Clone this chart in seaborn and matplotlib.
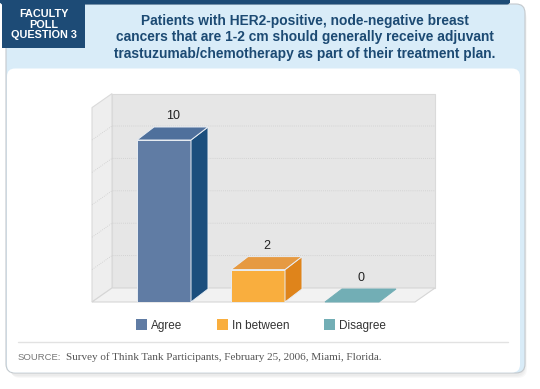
import matplotlib
matplotlib.use("Agg")
import matplotlib.pyplot as plt
import matplotlib.transforms as mtransforms
from matplotlib.patches import Polygon, Rectangle, FancyBboxPatch
from matplotlib.lines import Line2D
import numpy as np
import pandas as pd
import seaborn as sns

# ---------------- data ----------------
categories = ["Agree", "In between", "Disagree"]
votes = [10, 2, 0]
y_ticks = [0, 2, 4, 6, 8, 10, 12]
header_label = "FACULTY\nPOLL\nQUESTION 3"
title_lines = [
    "Patients with HER2-positive, node-negative breast",
    "cancers that are 1-2 cm should generally receive adjuvant",
    "trastuzumab/chemotherapy as part of their treatment plan.",
]
source_label = "SOURCE:"
source_text = "Survey of Think Tank Participants, February 25, 2006, Miami, Florida."

front_colors = ["#607ca4", "#f9ae3e", "#72aeb5"]
side_colors = ["#1b4e7d", "#df841b", "#5c979e"]
top_colors = ["#4f709c", "#e69a42", "#72aeb5"]

DARK = "#1d4b76"
LIGHT = "#d9ecf8"
SANS = ["Liberation Sans", "DejaVu Sans"]

W, H = 540, 389
sns.set_theme(style="white")
plt.rcParams["font.family"] = SANS

fig = plt.figure(figsize=(W / 100, H / 100), dpi=100)
fig.patch.set_facecolor("white")
ident = mtransforms.IdentityTransform()


def px(x, y):
    return (x, H - y)


def rect_px(x0, y0, x1, y1, **kw):
    r = Rectangle(px(x0, y1), x1 - x0, y1 - y0, transform=ident, **kw)
    fig.add_artist(r)
    return r


def fx(x):
    return x / W


def fy(y):
    return 1 - y / H


# ---------------- card frame ----------------
for i, a in enumerate([0.05, 0.05, 0.05]):
    sh = FancyBboxPatch(px(9 + i, 376 + i), 516, 368, boxstyle="round,pad=0,rounding_size=9",
                        transform=ident, facecolor="#808080", edgecolor="none", alpha=a, zorder=0)
    fig.add_artist(sh)
card = FancyBboxPatch(px(6, 373), 519, 369, boxstyle="round,pad=0,rounding_size=9",
                      transform=ident, facecolor=LIGHT, edgecolor="#c4c9cd", linewidth=0.8, zorder=1)
fig.add_artist(card)
panel = FancyBboxPatch(px(7, 372.5), 513, 304, boxstyle="round,pad=0,rounding_size=8",
                       transform=ident, facecolor="white", edgecolor="none", zorder=1.1)
fig.add_artist(panel)
strip = FancyBboxPatch(px(0, 4.5), 510, 6, boxstyle="round,pad=0,rounding_size=3",
                       transform=ident, facecolor=DARK, edgecolor="none", zorder=1.2)
fig.add_artist(strip)
rect_px(0, 0, 510, 3, facecolor=DARK, edgecolor="none", zorder=1.2)
rect_px(2, 0, 85, 48, facecolor=DARK, edgecolor="none", zorder=1.3)

fig.text(fx(43.5), fy(24.5), header_label, ha="center", va="center", color="white",
         fontsize=7.8, fontweight="bold", linespacing=1.1, zorder=5, family=SANS)
fig.text(fx(305), fy(37.5), "\n".join(title_lines), ha="center", va="center", color="#1c4a73",
         fontsize=9.9, fontweight="bold", linespacing=1.2, zorder=5, family=SANS)

# separator + source
fig.add_artist(Line2D([fx(18), fx(508)], [fy(342), fy(342)], transform=fig.transFigure,
                      color="#e2e2e2", linewidth=1.0, zorder=5))
fig.text(fx(18), fy(357), source_label, ha="left", va="center", color="#777777",
         fontsize=6.8, zorder=5, family=SANS)
fig.text(fx(66), fy(357), source_text, ha="left", va="center", color="#555555",
         fontsize=8, zorder=5, family=["Liberation Serif", "DejaVu Serif"])

# ---------------- chart axes (front plane) ----------------
front_left, front_right = 92, 415
zero_y, top_y = 302, 107.6
ax = fig.add_axes([fx(front_left), fy(zero_y), (front_right - front_left) / W, (zero_y - top_y) / H])
ax.set_zorder(3)
ax.patch.set_alpha(0)
spacing, first_center = 94, 164
bar_width = 54 / spacing
xlim = ((front_left - first_center) / spacing, (front_right - first_center) / spacing)

df = pd.DataFrame({"category": categories, "votes": votes})
sns.barplot(data=df, x="category", y="votes", hue="category", order=categories,
            hue_order=categories, palette=front_colors, saturation=1, dodge=False,
            width=bar_width, edgecolor="#e8edf3", linewidth=0.7, legend=True, ax=ax, zorder=3)
ax.set_xlim(*xlim)
ax.set_ylim(y_ticks[0], y_ticks[-1])
ax.axis("off")

to_disp = ax.transData
to_data = ax.transData.inverted()


def shift(pts, dxp, dyp):
    d = to_disp.transform(np.asarray(pts, dtype=float))
    d[:, 0] += dxp
    d[:, 1] += dyp
    return to_data.transform(d)


def poly(pts, **kw):
    p = Polygon(pts, closed=True, transform=ax.transData, clip_on=False, **kw)
    ax.add_patch(p)
    return p


# collect the seaborn bars (one per category)
bar_by_cat = {}
for p in list(ax.patches):
    if not isinstance(p, Rectangle):
        continue
    w_, h_ = p.get_width(), p.get_height()
    if not (np.isfinite(w_) and np.isfinite(h_)) or abs(w_ - bar_width) > 1e-6:
        continue
    idx = int(round(p.get_x() + w_ / 2))
    if 0 <= idx < len(categories):
        if idx not in bar_by_cat or abs(h_) > abs(bar_by_cat[idx].get_height()):
            bar_by_cat[idx] = p

# walls
x0, x1 = xlim
y0, y1 = y_ticks[0], y_ticks[-1]
WDX, WDY = 20, 14
back_bot = shift([(x0, y0), (x1, y0)], WDX, WDY)
back_top = shift([(x0, y1), (x1, y1)], WDX, WDY)
poly([back_bot[0], back_bot[1], back_top[1], back_top[0]], facecolor="#e6e6e6",
     edgecolor="#dadada", linewidth=0.8, zorder=0.5)
poly([(x0, y0), back_bot[0], back_top[0], (x0, y1)], facecolor="#eeeeee",
     edgecolor="#dadada", linewidth=0.8, zorder=0.6)
poly([(x0, y0), (x1, y0), back_bot[1], back_bot[0]], facecolor="#f2f2f2",
     edgecolor="#d6d6d6", linewidth=0.8, zorder=0.7)
for t in y_ticks[1:-1]:
    b = shift([(x0, t), (x1, t)], WDX, WDY)
    ax.add_line(Line2D([x0, b[0][0], b[1][0]], [t, b[0][1], b[1][1]], color="#cdcdcd",
                       linewidth=0.6, linestyle=(0, (1, 1.5)), zorder=0.65, clip_on=False))

# 3D bar faces + value labels
BDX, BDY = 17, 13
for i, v in enumerate(votes):
    bar = bar_by_cat[i]
    bx0, bw, h = bar.get_x(), bar.get_width(), bar.get_height()
    bx1 = bx0 + bw
    top_back = shift([(bx0, h), (bx1, h)], BDX, BDY)
    poly([(bx0, h), (bx1, h), top_back[1], top_back[0]], facecolor=top_colors[i],
         edgecolor="#e8edf3" if h > 0 else top_colors[i], linewidth=0.7, zorder=3.2)
    if h > 0:
        bot_back = shift([(bx1, 0)], BDX, BDY)
        poly([(bx1, 0), bot_back[0], top_back[1], (bx1, h)], facecolor=side_colors[i],
             edgecolor="#e8edf3", linewidth=0.7, zorder=3.1)
    ax.annotate(f"{v}", xy=(bx0 + bw / 2, h), xytext=(9, 24), textcoords="offset pixels",
                ha="center", va="center", fontsize=9, color="#222222",
                family=SANS, zorder=5, annotation_clip=False)

# legend
sns.move_legend(ax, "center", bbox_to_anchor=(fx(261), fy(325.5)), bbox_transform=fig.transFigure,
                ncol=3, frameon=False, title=None, fontsize=8.5, handlelength=0.95,
                handleheight=0.95, handletextpad=0.35, columnspacing=2.9)
leg = ax.get_legend()
for t in leg.get_texts():
    t.set_color("#333333")
for hnd in leg.legend_handles:
    hnd.set_edgecolor("none")

fig.savefig("out.png", dpi=100)
